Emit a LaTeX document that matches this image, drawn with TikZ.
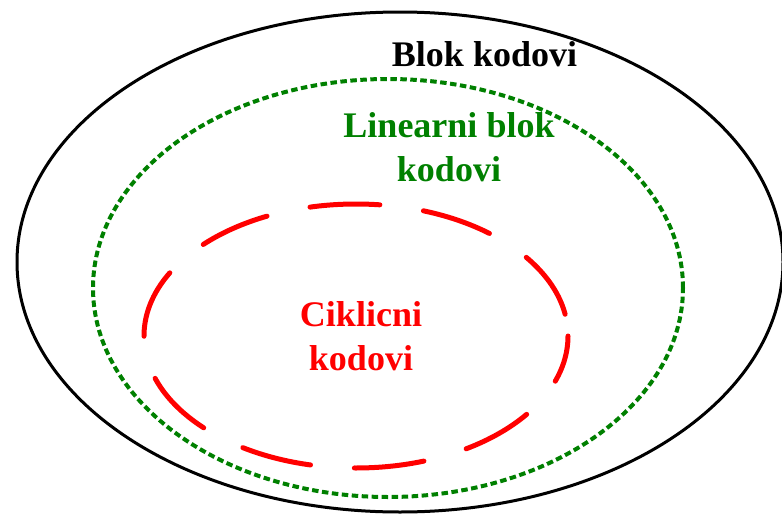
\documentclass[tikz,border=0pt]{standalone}
\usepackage{fontspec}
\setmainfont{Liberation Serif}
\usetikzlibrary{shapes.geometric}
\definecolor{codegreen}{RGB}{0,128,0}
\begin{document}
\begin{tikzpicture}[x=1pt,y=-1pt,
                        set/.style={ellipse, inner sep=0pt, outer sep=0pt},
                        setlabel/.style={align=center, inner sep=0pt, font=\fontsize{36}{44}\selectfont\bfseries}]
                        \useasboundingbox (0,0) rectangle (782,514);
                        \node [set, draw=black, line width=3pt, minimum width=766pt, minimum height=500pt] (blok) at (400,262) {};
                        \node [set, draw=codegreen, line width=4pt, dash pattern=on 6.5pt off 3.5pt, minimum width=590pt, minimum height=418pt] (linearni) at (388,288) {};
                        \node [set, draw=red, line width=5pt, line cap=round, dash pattern=on 70pt off 44pt, dash phase=92pt, minimum width=424pt, minimum height=264pt] (ciklicni) at (356,336) {};
                        \node [setlabel, anchor=base] (blokText) at (484.5,66) {Blok kodovi};
                        \node [setlabel, text=codegreen] (linearniText) at (449,147.5) {Linearni blok\\kodovi};
                        \node [setlabel, text=red] (ciklicniText) at (361,336) {Ciklicni\\kodovi};
                    \end{tikzpicture}
\end{document}
